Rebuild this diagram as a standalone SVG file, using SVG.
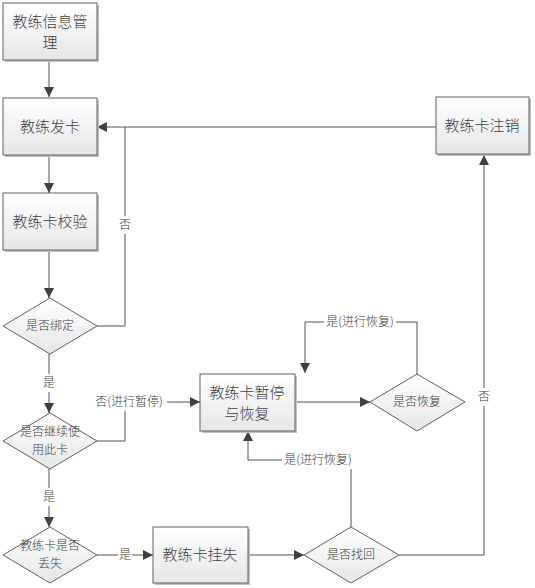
<svg xmlns="http://www.w3.org/2000/svg" width="535" height="588" viewBox="0 0 535 588">
<defs>
<linearGradient id="g" x1="0" y1="0" x2="0" y2="1">
<stop offset="0" stop-color="#ffffff"/>
<stop offset="1" stop-color="#e6e6e6"/>
</linearGradient>
<marker id="ar" viewBox="0 0 10 10" refX="10" refY="5" markerWidth="10" markerHeight="10" markerUnits="userSpaceOnUse" orient="auto">
<path d="M0,0 L10,5 L0,10 Z" fill="#404040"/>
</marker>
</defs>
<style>
.box{fill:url(#g);stroke:#606060;stroke-width:1}
.sh{fill:#c0c0c0}
.bt{font-family:"Noto Sans CJK SC","Noto Sans CJK JP",sans-serif;font-size:15px;font-weight:300;fill:#404040;text-anchor:middle}
.dt{font-family:"Noto Sans CJK SC","Noto Sans CJK JP",sans-serif;font-size:12px;font-weight:300;fill:#404040;text-anchor:middle}
.lt{font-family:"Noto Sans CJK SC","Noto Sans CJK JP",sans-serif;font-size:12px;font-weight:300;fill:#404040;text-anchor:middle}
.c{fill:none;stroke:#505050;stroke-width:1}
.lb{fill:#fff}
</style>
<rect width="535" height="588" fill="#fff"/>
<g id="connectors">
<path class="c" d="M49,60 V97" marker-end="url(#ar)"/>
<path class="c" d="M49,155 V193" marker-end="url(#ar)"/>
<path class="c" d="M49,251 V298" marker-end="url(#ar)"/>
<path class="c" d="M97,326 H125 V127 H97" marker-end="url(#ar)"/>
<path class="c" d="M125,127 H436"/>
<path class="c" d="M49,354 V413" marker-end="url(#ar)"/>
<path class="c" d="M97,441 H125 V402 H200" marker-end="url(#ar)"/>
<path class="c" d="M49,469 V527" marker-end="url(#ar)"/>
<path class="c" d="M97,555 H153" marker-end="url(#ar)"/>
<path class="c" d="M295,402 H370" marker-end="url(#ar)"/>
<path class="c" d="M417,374 V322 H305 V373" marker-end="url(#ar)"/>
<path class="c" d="M248,555 H304" marker-end="url(#ar)"/>
<path class="c" d="M351,527 V460 H248 V431" marker-end="url(#ar)"/>
<path class="c" d="M399,555 H484 V155" marker-end="url(#ar)"/>
<rect class="lb" x="118" y="216" width="14" height="18"/>
<text class="lt" x="125" y="229">否</text>
<rect class="lb" x="42" y="374" width="14" height="18"/>
<text class="lt" x="49" y="387">是</text>
<rect class="lb" x="91" y="393" width="76" height="18"/>
<text class="lt" x="129" y="406">否(进行暂停)</text>
<rect class="lb" x="42" y="488" width="14" height="18"/>
<text class="lt" x="49" y="501">是</text>
<rect class="lb" x="118" y="546" width="14" height="18"/>
<text class="lt" x="125" y="559">是</text>
<rect class="lb" x="324" y="313" width="72" height="18"/>
<text class="lt" x="360" y="326">是(进行恢复)</text>
<rect class="lb" x="282" y="451" width="72" height="18"/>
<text class="lt" x="318" y="464">是(进行恢复)</text>
<rect class="lb" x="477" y="388" width="14" height="18"/>
<text class="lt" x="484" y="401">否</text>
</g>
<g id="n1">
<rect class="sh" x="5" y="5" width="94" height="57"/>
<rect class="box" x="3" y="3" width="94" height="57"/>
<text class="bt" x="50" y="27">教练信息管</text>
<text class="bt" x="50" y="48">理</text>
</g>
<g id="n2">
<rect class="sh" x="5" y="100" width="94" height="57"/>
<rect class="box" x="3" y="98" width="94" height="57"/>
<text class="bt" x="50" y="132">教练发卡</text>
</g>
<g id="n3">
<rect class="sh" x="5" y="195" width="94" height="57"/>
<rect class="box" x="3" y="193" width="94" height="57"/>
<text class="bt" x="50" y="227">教练卡校验</text>
</g>
<g id="d1">
<polygon class="box" points="50,298 97,326 50,354 3,326"/>
<text class="dt" x="50" y="330">是否绑定</text>
</g>
<g id="d2">
<polygon class="box" points="50,413 97,441 50,469 3,441"/>
<text class="dt" x="50" y="436">是否继续使</text>
<text class="dt" x="50" y="454">用此卡</text>
</g>
<g id="d3">
<polygon class="box" points="50,527 97,555 50,583 3,555"/>
<text class="dt" x="50" y="550">教练卡是否</text>
<text class="dt" x="50" y="568">丢失</text>
</g>
<g id="n4">
<rect class="sh" x="155" y="529" width="95" height="56"/>
<rect class="box" x="153" y="527" width="95" height="56"/>
<text class="bt" x="200" y="560">教练卡挂失</text>
</g>
<g id="d4">
<polygon class="box" points="351,527 399,555 351,583 304,555"/>
<text class="dt" x="351" y="559">是否找回</text>
</g>
<g id="n5">
<rect class="sh" x="202" y="376" width="95" height="57"/>
<rect class="box" x="200" y="374" width="95" height="57"/>
<text class="bt" x="247" y="398">教练卡暂停</text>
<text class="bt" x="247" y="419">与恢复</text>
</g>
<g id="d5">
<polygon class="box" points="417,374 465,402 417,431 370,402"/>
<text class="dt" x="417" y="406">是否恢复</text>
</g>
<g id="n6">
<rect class="sh" x="438" y="99" width="93" height="57"/>
<rect class="box" x="436" y="97" width="93" height="57"/>
<text class="bt" x="482" y="131">教练卡注销</text>
</g>
</svg>
